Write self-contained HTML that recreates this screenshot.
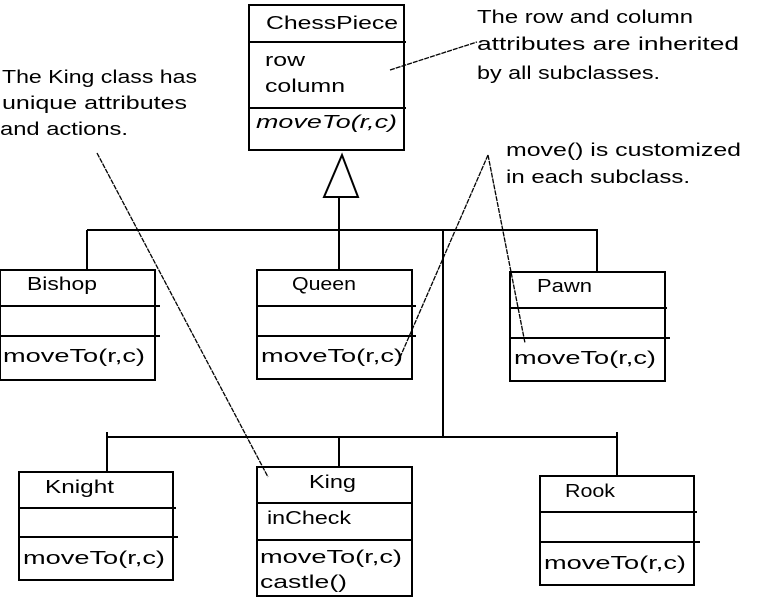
<!DOCTYPE html>
<html><head><style>
body{margin:0;background:#fff}
svg{display:block}
text{font-family:"Liberation Sans",sans-serif;font-size:18px;fill:#000}
</style></head><body>
<svg width="761" height="600" viewBox="0 0 761 600">
<g fill="none" stroke="#000" stroke-width="2">
<rect x="249" y="5" width="155" height="145"/>
<line x1="249" y1="42" x2="406" y2="42"/>
<line x1="249" y1="108" x2="406" y2="108"/>
<polygon points="342,155 324,197 358,197"/>
<line x1="339" y1="197" x2="339" y2="270"/>
<line x1="87" y1="230" x2="598" y2="230"/>
<line x1="87" y1="230" x2="87" y2="270"/>
<line x1="597" y1="230" x2="597" y2="272"/>
<line x1="443" y1="230" x2="443" y2="437"/>
<line x1="107" y1="437" x2="618" y2="437"/>
<line x1="107" y1="432" x2="107" y2="472"/>
<line x1="339" y1="437" x2="339" y2="467"/>
<line x1="617" y1="432" x2="617" y2="476"/>
<rect x="0" y="270" width="155" height="110"/>
<line x1="0" y1="306" x2="160" y2="306"/><line x1="0" y1="336" x2="160" y2="336"/>
<rect x="257" y="270" width="155" height="109"/>
<line x1="257" y1="306" x2="416" y2="306"/><line x1="257" y1="336" x2="416" y2="336"/>
<rect x="510" y="272" width="155" height="109"/>
<line x1="510" y1="308" x2="667" y2="308"/><line x1="510" y1="338" x2="670" y2="338"/>
<rect x="19" y="472" width="154" height="108"/>
<line x1="19" y1="508" x2="176" y2="508"/><line x1="19" y1="537" x2="178" y2="537"/>
<rect x="257" y="467" width="155" height="129"/>
<line x1="257" y1="503" x2="412" y2="503"/><line x1="257" y1="540" x2="412" y2="540"/>
<rect x="540" y="476" width="154" height="109"/>
<line x1="540" y1="512" x2="697" y2="512"/><line x1="540" y1="542" x2="700" y2="542"/>
</g>
<g fill="none" stroke="#000" stroke-width="1.3" stroke-dasharray="5,1">
<line x1="97" y1="153" x2="268" y2="477"/>
<line x1="488" y1="155" x2="398" y2="362"/>
<line x1="488" y1="155" x2="525" y2="343"/>
<line x1="390" y1="70" x2="477" y2="42"/>
</g>
<g lengthAdjust="spacingAndGlyphs">
<text x="266" y="29" textLength="132" lengthAdjust="spacingAndGlyphs">ChessPiece</text>
<text x="265" y="66" textLength="40" lengthAdjust="spacingAndGlyphs">row</text>
<text x="265" y="92" textLength="80" lengthAdjust="spacingAndGlyphs">column</text>
<text x="256" y="128" font-style="italic" textLength="141" lengthAdjust="spacingAndGlyphs">moveTo(r,c)</text>
<text x="27" y="290" textLength="70" lengthAdjust="spacingAndGlyphs">Bishop</text>
<text x="292" y="290" textLength="64" lengthAdjust="spacingAndGlyphs">Queen</text>
<text x="537" y="292" textLength="55" lengthAdjust="spacingAndGlyphs">Pawn</text>
<text x="3" y="362" textLength="142" lengthAdjust="spacingAndGlyphs">moveTo(r,c)</text>
<text x="261" y="362" textLength="142" lengthAdjust="spacingAndGlyphs">moveTo(r,c)</text>
<text x="514" y="364" textLength="142" lengthAdjust="spacingAndGlyphs">moveTo(r,c)</text>
<text x="45" y="493" textLength="69" lengthAdjust="spacingAndGlyphs">Knight</text>
<text x="309" y="488" textLength="47" lengthAdjust="spacingAndGlyphs">King</text>
<text x="565" y="497" textLength="50" lengthAdjust="spacingAndGlyphs">Rook</text>
<text x="23" y="564" textLength="142" lengthAdjust="spacingAndGlyphs">moveTo(r,c)</text>
<text x="267" y="524" textLength="84" lengthAdjust="spacingAndGlyphs">inCheck</text>
<text x="260" y="563" textLength="142" lengthAdjust="spacingAndGlyphs">moveTo(r,c)</text>
<text x="260" y="588" textLength="87" lengthAdjust="spacingAndGlyphs">castle()</text>
<text x="544" y="569" textLength="142" lengthAdjust="spacingAndGlyphs">moveTo(r,c)</text>
<text x="2" y="83" textLength="195" lengthAdjust="spacingAndGlyphs">The King class has</text>
<text x="2" y="109" textLength="185" lengthAdjust="spacingAndGlyphs">unique attributes</text>
<text x="0" y="135" textLength="128" lengthAdjust="spacingAndGlyphs">and actions.</text>
<text x="477" y="23" textLength="216" lengthAdjust="spacingAndGlyphs">The row and column</text>
<text x="477" y="50" textLength="262" lengthAdjust="spacingAndGlyphs">attributes are inherited</text>
<text x="477" y="79" textLength="183" lengthAdjust="spacingAndGlyphs">by all subclasses.</text>
<text x="506" y="156" textLength="235" lengthAdjust="spacingAndGlyphs">move() is customized</text>
<text x="506" y="183" textLength="184" lengthAdjust="spacingAndGlyphs">in each subclass.</text>
</g>
</svg>
</body></html>
